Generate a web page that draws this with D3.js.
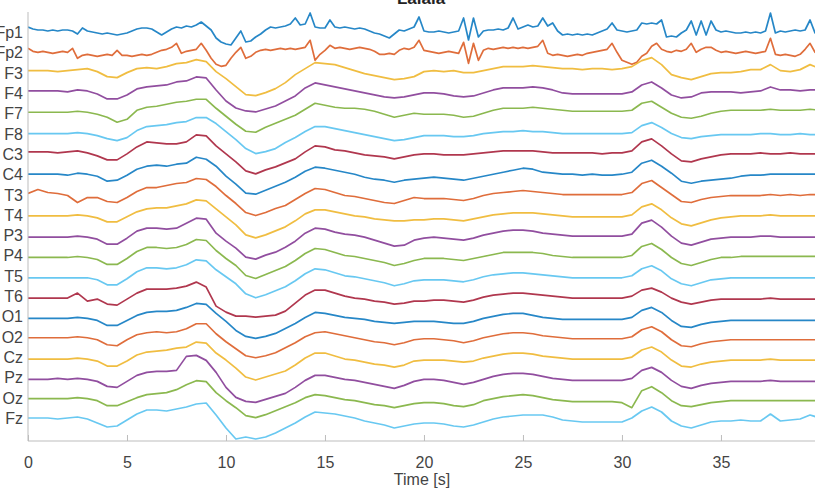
<!DOCTYPE html>
<html>
<head>
<meta charset="utf-8">
<script src="https://cdn.jsdelivr.net/npm/d3@7"></script>
<style>
  body { margin: 0; background: #fff; }
  svg text { font-family: Helvetica, Arial, 'Liberation Sans', sans-serif; }
</style>
</head>
<body>
<div id="chart"></div>
<script>
// channel names, top to bottom
const channels = ['Fp1', 'Fp2', 'F3', 'F4', 'F7', 'F8', 'C3', 'C4', 'T3', 'T4',
  'P3', 'P4', 'T5', 'T6', 'O1', 'O2', 'Cz', 'Pz', 'Oz', 'Fz'];

const xTicks = [0, 5, 10, 15, 20, 25, 30, 35];

// sample spacing in seconds
const fineStep = 0.25;   // Fp1, Fp2 (spiky)
const coarseStep = 0.5;  // everything else

// amplitudes (offset from channel baseline), one row = 5 s
const fp1 = [
  5, 3, 2, 2, 1, 2, 1, 2, 2, 1, -2, 4, 1, 0, -1, -2, -1, -2, -3, -2,
  -1, 1, 3, 4, 4, 3, 0, -3, 0, 3, 5, 4, 6, 5, 7, 10, 6, 2, -6, -10,
  -12, -13, -6, 1, -10, -9, -5, -2, 2, 5, 4, 5, 6, 8, 14, 7, 8, 19, 5, 4,
  4, 12, 5, 4, 5, 4, 3, 4, 3, 1, -1, -2, -4, -6, -2, 2, 1, 3, 5, 15,
  1, 0, 0, 1, 0, -1, 0, 1, 14, -8, 14, -5, 1, 2, 2, 3, 2, 4, 14, 3,
  5, 7, 5, 6, 14, 6, 9, 1, -3, -2, -3, -2, -3, -2, -3, -1, 1, 3, 9, 2,
  1, 0, 1, 2, 9, 8, 9, 8, 12, -5, -4, -5, -1, 2, 11, -3, 11, -3, 11, 2,
  0, 1, 0, -1, -1, 0, -1, 0, -1, 1, 19, -1, 1, 0, 1, 2, 1, 2, 12, -1,
  0
];
const fp2 = [
  4, 1, 0, 1, 0, -1, 0, 1, 0, 4, -6, -3, -2, -3, -4, -3, -2, -3, 2, -3,
  -3, -4, -3, -2, -3, -2, 0, 2, 3, 5, 9, -1, 1, 2, 3, 9, 2, -6, -12, -14,
  -13, -6, 0, 5, -6, -4, 0, 2, 3, 2, 3, 4, 3, 4, 3, 4, 5, 12, -8, -2,
  2, 7, 4, 5, 4, 3, 4, 5, 4, 3, 1, -2, -2, -1, -2, 2, 4, 3, 5, 12,
  2, 1, 0, -1, 0, 1, 0, -1, 10, -11, 9, -8, 2, 4, 3, 4, 5, 4, 5, 4,
  5, 4, 5, 6, 12, -1, -3, -2, -3, -4, -3, -2, -3, -1, 0, 1, 2, 3, 9, 0,
  -8, -10, -12, -10, -4, -1, 6, 9, 3, 1, 0, 2, 1, 3, 9, 0, 3, 5, 5, 2,
  0, 1, 0, -1, 0, 1, 0, -1, 0, 1, 14, -2, -3, -2, -3, -4, -2, 3, 9, 0,
  0
];
const f3 = [
  2, 2, 2, 1, 2, 3, 4, 1, -4, -5,
  0, 4, 5, 4, 6, 9, 10, 13, 11, 1,
  -6, -14, -22, -23, -20, -16, -10, -2, 4, 10,
  9, 8, 5, 2, -1, -3, -5, -7, -6, -4,
  1, 2, 1, 2, 0, 0, 2, 4, 6, 6,
  6, 7, 6, 5, 4, 4, 3, 4, 4, 3,
  4, 6, 12, 15, 8, -2, -5, -7, -4, -1,
  0, 0, 1, 3, 3, 8, 2, 1, 3, 8,
  4
];
const f4 = [
  2, 2, 2, 2, 1, 3, 2, -1, -6, -6,
  -2, 4, 6, 7, 8, 11, 12, 16, 15, 3,
  -8, -15, -18, -19, -16, -13, -8, -3, 5, 10,
  8, 6, 4, 2, 0, -2, -4, -5, -4, -2,
  0, 0, -1, -3, -4, -3, 0, 3, 5, 5,
  5, 6, 5, 3, 0, -1, -1, -1, -1, -1,
  -1, 1, 8, 11, 5, -2, -5, -4, 0, 1,
  1, 1, 0, 1, 2, 6, 3, 3, 2, 3,
  3
];
const f7 = [
  1, 1, 1, 1, 1, 2, 1, -1, -4, -9,
  -6, 3, 6, 7, 9, 11, 12, 14, 14, 5,
  -3, -11, -18, -19, -14, -10, -6, -2, 4, 10,
  8, 6, 5, 5, 4, 2, -1, -4, -2, 0,
  -1, -1, -1, -2, -4, -3, 0, 3, 5, 5,
  5, 6, 5, 4, 3, 2, 2, 2, 2, 2,
  2, 3, 10, 12, 6, 0, -4, -5, -3, 0,
  2, 3, 3, 3, 3, 4, 3, 3, 3, 4,
  3
];
const f8 = [
  0, 0, 0, 0, 0, 1, 0, -2, -5, -7,
  -4, 3, 7, 8, 9, 11, 12, 16, 16, 10,
  2, -6, -15, -20, -18, -15, -9, -4, 2, 7,
  7, 5, 3, 1, -1, -3, -5, -7, -6, -4,
  -2, -2, -2, -3, -3, -2, 0, 1, 2, 2,
  3, 2, 2, 1, 0, 0, 0, 0, 0, 0,
  0, 1, 8, 11, 6, 0, -4, -5, -3, -2,
  -1, -1, -1, -1, 0, 0, -1, -1, 0, -1,
  -1
];
const c3 = [
  2, 2, 2, 1, 2, 3, 1, -2, -6, -6,
  0, 7, 12, 11, 10, 10, 12, 19, 18, 8,
  0, -8, -17, -20, -16, -13, -9, -5, 2, 8,
  7, 4, 3, 1, -1, -2, -3, -5, -3, -1,
  0, 0, -1, -1, -1, 0, 1, 2, 3, 3,
  3, 3, 2, 1, 1, 1, 1, 1, 0, 1,
  1, 3, 12, 15, 8, 0, -7, -8, -5, -3,
  -1, 0, 0, 0, 1, 0, 0, 1, 0, 0,
  0
];
const c4 = [
  0, 0, 0, 0, -1, 1, 0, -2, -7, -6,
  -1, 5, 8, 9, 8, 10, 11, 17, 15, 8,
  -2, -10, -19, -20, -16, -12, -8, -3, 3, 7,
  6, 4, 2, 0, -3, -5, -6, -8, -6, -5,
  -4, -3, -4, -5, -6, -4, -2, 0, 2, 4,
  6, 5, 2, 1, 0, 0, -1, 0, -1, -1,
  0, 2, 11, 14, 8, 1, -7, -9, -7, -6,
  -5, -4, -2, -1, -1, 0, 0, 0, 0, 0,
  0
];
const t3 = [
  1, 5, 2, 1, -1, -8, -3, -3, -7, -8,
  -3, 3, 7, 7, 9, 11, 12, 16, 15, 8,
  -1, -9, -18, -21, -18, -14, -11, -5, 1, 6,
  5, 2, -1, -2, -4, -6, -8, -9, -6, -3,
  -4, -4, -4, -5, -6, -4, -1, 1, 2, 3,
  4, 3, 2, 1, 0, 0, 0, 0, 0, 0,
  0, 2, 11, 14, 7, 0, -7, -8, -5, -3,
  -2, -1, -1, -1, -1, 0, -1, 0, -1, 0,
  0
];
const t4 = [
  -1, -1, -1, -1, -1, 0, -1, -3, -7, -7,
  -2, 3, 6, 7, 7, 9, 11, 15, 14, 6,
  -2, -10, -20, -23, -20, -16, -12, -6, 1, 5,
  5, 3, 1, -1, -2, -4, -5, -6, -6, -5,
  -5, -4, -4, -5, -6, -4, -2, 0, 1, 2,
  2, 2, 1, 0, -1, -2, -2, -2, -2, -2,
  -2, 0, 8, 11, 5, -3, -9, -11, -8, -5,
  -3, -2, -1, -1, -1, 0, -1, -1, -1, -1,
  -1
];
const p3 = [
  -2, -2, -2, -2, -2, -1, -2, -4, -9, -9,
  -3, 4, 7, 7, 6, 7, 12, 17, 16, 2,
  -6, -13, -22, -24, -20, -17, -12, -6, 2, 7,
  6, 3, 1, 0, -2, -5, -8, -11, -10, -5,
  -3, -2, -3, -4, -5, -3, 0, 2, 4, 5,
  5, 4, 2, 1, 0, -1, -1, -1, -1, -1,
  -1, 1, 12, 15, 8, -1, -8, -10, -7, -4,
  -3, -2, -2, -2, -1, -1, -2, -2, -2, -2,
  -2
];
const p4 = [
  -2, -2, -2, -2, -2, -1, -2, -4, -9, -9,
  -3, 4, 8, 8, 7, 8, 11, 16, 15, 5,
  -3, -10, -20, -23, -19, -15, -11, -5, 2, 7,
  6, 3, 0, -1, -3, -5, -7, -10, -8, -5,
  -3, -3, -3, -4, -5, -3, -1, 1, 3, 3,
  3, 3, 2, 0, -1, -2, -2, -2, -2, -2,
  -2, 0, 9, 12, 6, -2, -8, -10, -7, -4,
  -2, -2, -1, -1, -1, -1, -1, -1, -1, -1,
  -1
];
const t5 = [
  -2, -2, -2, -2, -2, -2, -2, -4, -9, -9,
  -3, 4, 8, 8, 7, 8, 11, 16, 15, 6,
  -1, -8, -18, -22, -19, -15, -11, -5, 2, 7,
  6, 3, 0, -1, -3, -5, -7, -10, -8, -5,
  -4, -4, -4, -5, -6, -4, -1, 1, 2, 3,
  3, 2, 1, 0, -1, -2, -2, -2, -2, -2,
  -2, 0, 7, 10, 5, -3, -8, -10, -7, -4,
  -3, -2, -2, -2, -2, -2, -2, -2, -2, -2,
  -2
];
const t6 = [
  -2, -2, -2, -2, -2, 3, -5, -3, -8, -9,
  -3, 3, 7, 7, 7, 8, 10, 14, 9, -10,
  -16, -20, -20, -21, -20, -19, -15, -7, 1, 6,
  6, 3, 0, -2, -3, -5, -6, -8, -7, -5,
  -5, -4, -4, -5, -6, -4, -1, 1, 2, 3,
  3, 2, 1, 0, -1, -2, -2, -2, -2, -2,
  -2, 0, 6, 8, 4, -2, -6, -8, -6, -4,
  -3, -3, -3, -3, -3, -2, -3, -3, -3, -3,
  -3
];
const o1 = [
  -2, -2, -2, -2, -2, -1, -2, -4, -9, -9,
  -4, 1, 4, 5, 5, 6, 9, 13, 12, 3,
  -5, -14, -20, -22, -20, -17, -12, -7, -1, 4,
  3, 1, -1, -2, -3, -5, -6, -7, -6, -5,
  -5, -5, -6, -7, -7, -5, -2, 0, 2, 3,
  3, 1, -1, -2, -3, -3, -3, -3, -3, -3,
  -3, -1, 6, 9, 4, -4, -10, -11, -8, -6,
  -5, -4, -4, -4, -4, -4, -4, -4, -4, -4,
  -4
];
const o2 = [
  -1, -1, -1, -1, -1, 0, -1, -3, -8, -9,
  -3, 2, 4, 5, 4, 5, 8, 13, 13, 3,
  -5, -12, -19, -21, -19, -16, -11, -6, 0, 4,
  5, 3, 1, -1, -3, -5, -6, -8, -6, -3,
  -2, -2, -3, -4, -6, -4, -1, 1, 3, 4,
  4, 3, 1, 0, -1, -2, -2, -2, -2, -2,
  -2, 0, 7, 10, 5, -3, -9, -10, -7, -5,
  -4, -3, -3, -3, -3, -3, -3, -3, -3, -3,
  -3
];
const cz = [
  -2, -2, -2, -2, -2, -1, -2, -4, -9, -9,
  -4, 2, 5, 6, 7, 9, 10, 15, 14, 4,
  -3, -11, -20, -23, -20, -17, -14, -8, -1, 4,
  4, 1, -2, -3, -5, -7, -8, -10, -8, -4,
  -3, -3, -3, -4, -5, -4, -1, 1, 3, 4,
  4, 3, 1, 0, -1, -2, -2, -2, -2, -2,
  -2, 0, 7, 10, 5, -3, -9, -10, -7, -5,
  -4, -3, -3, -3, -3, -2, -3, -3, -3, -3,
  -3
];
const pz = [
  -2, -2, -2, -1, -2, -1, -2, -4, -9, -10,
  -4, 2, 5, 6, 6, 7, 21, 22, 17, 5,
  -10, -20, -24, -25, -22, -19, -16, -10, -3, 2,
  2, 0, -2, -3, -5, -7, -9, -11, -8, -4,
  -2, -2, -3, -5, -7, -5, -2, 1, 3, 4,
  4, 3, 1, -1, -2, -3, -3, -3, -3, -3,
  -3, -1, 7, 10, 5, -3, -9, -11, -8, -6,
  -5, -4, -4, -4, -4, -3, -4, -4, -4, -4,
  -4
];
const oz = [
  -1, -1, -1, -1, -1, 0, -1, -3, -8, -8,
  -4, 0, 3, 4, 5, 8, 13, 17, 16, 5,
  -3, -10, -18, -20, -17, -13, -9, -5, 0, 3,
  2, 0, -2, -3, -5, -7, -8, -10, -8, -6,
  -5, -5, -6, -8, -9, -7, -3, -1, 1, 2,
  3, 2, 0, -2, -3, -4, -4, -4, -4, -4,
  -5, -10, 7, 11, 5, -3, -8, -9, -7, -5,
  -4, -3, -3, -3, -3, -3, -3, -3, -3, -3,
  -3
];
const fz = [
  0, 0, 0, -1, 0, 1, -1, -5, -9, -8,
  -2, 4, 8, 8, 7, 9, 11, 14, 15, 3,
  -10, -21, -19, -21, -19, -15, -10, -5, 1, 6,
  5, 4, 2, 0, -3, -5, -7, -10, -8, -6,
  -5, -5, -6, -8, -9, -7, -4, -1, 1, 2,
  3, 3, 3, 1, -2, -3, -4, -4, -4, -4,
  -4, 0, 7, 11, 6, -3, -8, -10, -7, -4,
  -3, -3, -2, -3, -3, 4, -3, -2, -1, 3,
  0
];

const traces = [
  {values: fp1, step: fineStep}, {values: fp2, step: fineStep},
  {values: f3, step: coarseStep}, {values: f4, step: coarseStep},
  {values: f7, step: coarseStep}, {values: f8, step: coarseStep},
  {values: c3, step: coarseStep}, {values: c4, step: coarseStep},
  {values: t3, step: coarseStep}, {values: t4, step: coarseStep},
  {values: p3, step: coarseStep}, {values: p4, step: coarseStep},
  {values: t5, step: coarseStep}, {values: t6, step: coarseStep},
  {values: o1, step: coarseStep}, {values: o2, step: coarseStep},
  {values: cz, step: coarseStep}, {values: pz, step: coarseStep},
  {values: oz, step: coarseStep}, {values: fz, step: coarseStep}
];

// matlab default line colours
const colors = ['#0072BD', '#D95319', '#EDB120', '#7E2F8E', '#77AC30', '#4DBEEE', '#A2142F'];

const width = 820;
const height = 489;
const margin = {top: 12, right: 5, bottom: 48, left: 28};

const svg = d3.select('#chart').append('svg')
  .attr('width', width)
  .attr('height', height);

const x = d3.scaleLinear()
  .domain([0, 39.75])
  .range([margin.left, width - margin.right]);

const yChannel = d3.scaleLinear()
  .domain([0, channels.length - 1])
  .range([32, 418]);

// amplitude -> pixel offset
const amp = d3.scaleLinear().domain([0, 10]).range([0, -10]);

const axisY = height - margin.bottom;

svg.append('clipPath')
  .attr('id', 'plot-clip')
  .append('rect')
  .attr('x', margin.left)
  .attr('y', 0)
  .attr('width', width - margin.right - margin.left)
  .attr('height', height);

// traces
const plot = svg.append('g').attr('clip-path', 'url(#plot-clip)');

traces.forEach(function(tr, i) {
  const base = yChannel(i);
  const line = d3.line()
    .x(function(v, k) { return x(k * tr.step); })
    .y(function(v) { return base + amp(v); });

  plot.append('path')
    .attr('d', line(tr.values))
    .attr('fill', 'none')
    .attr('stroke', colors[i % colors.length])
    .attr('stroke-width', 1.7)
    .attr('stroke-linejoin', 'round')
    .attr('opacity', 0.85);
});

// axes
const axisColor = '#bdbdbd';

svg.append('line')
  .attr('x1', margin.left).attr('x2', margin.left)
  .attr('y1', margin.top).attr('y2', axisY)
  .attr('stroke', axisColor);

svg.append('line')
  .attr('x1', margin.left).attr('x2', width - margin.right)
  .attr('y1', axisY).attr('y2', axisY)
  .attr('stroke', axisColor);

const xAxis = svg.append('g')
  .attr('class', 'axis axis-x')
  .attr('transform', 'translate(0,' + axisY + ')')
  .call(d3.axisBottom(x)
    .tickValues(xTicks)
    .tickSizeInner(-6)
    .tickSizeOuter(0)
    .tickPadding(16));

xAxis.select('.domain').remove();
xAxis.selectAll('.tick line').attr('stroke', axisColor);
xAxis.selectAll('.tick text')
  .attr('fill', '#444')
  .attr('font-size', 16)
  .attr('font-family', 'Helvetica, Arial, Liberation Sans, sans-serif');

// channel labels
svg.append('g')
  .selectAll('text')
  .data(channels)
  .join('text')
  .attr('x', 23)
  .attr('y', function(d, i) { return yChannel(i) + 6; })
  .attr('text-anchor', 'end')
  .attr('font-size', 16)
  .attr('fill', '#444')
  .text(function(d) { return d; });

svg.append('text')
  .attr('x', 422)
  .attr('y', 485)
  .attr('text-anchor', 'middle')
  .attr('font-size', 16)
  .attr('fill', '#444')
  .text('Time [s]');

svg.append('text')
  .attr('x', 421)
  .attr('y', 4)
  .attr('text-anchor', 'middle')
  .attr('font-size', 17)
  .attr('font-weight', 'bold')
  .attr('fill', '#222')
  .text('Lalala');
</script>
</body>
</html>
